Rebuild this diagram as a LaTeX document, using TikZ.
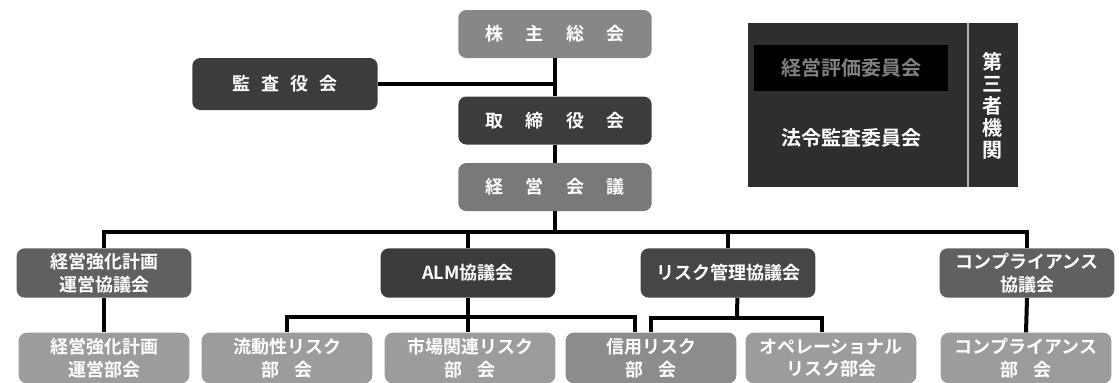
\documentclass[tikz,border=0pt]{standalone}
\usepackage{fontspec}
\setmainfont{Noto Sans CJK JP}[BoldFont={Noto Sans CJK JP Bold}]
\usetikzlibrary{positioning}
\definecolor{midgray}{HTML}{878787}
\definecolor{darkgray}{HTML}{3C3C3C}
\definecolor{dimgray}{HTML}{606060}
\definecolor{lightgray}{HTML}{9C9C9C}
\definecolor{panelgray}{HTML}{2E2E2E}
\tikzstyle{org}=[rectangle, rounded corners=6pt, text=white, align=center, inner sep=0pt]
\tikzstyle{head}=[org, minimum width=145pt, minimum height=36pt, font=\bfseries\fontsize{13.5}{15}\selectfont]
\tikzstyle{council}=[org, minimum width=131pt, minimum height=37pt, font=\bfseries\fontsize{13.5}{17}\selectfont]
\tikzstyle{section}=[org, minimum width=128pt, minimum height=38pt, font=\bfseries\fontsize{13.5}{17}\selectfont, fill=lightgray]
\tikzstyle{link}=[line width=3pt]
\newcommand\wsp{\hspace{1.25em}}
\newcommand\nsp{\hspace{.8em}}

\begin{document}
\begin{tikzpicture}[x=0.75pt, y=-0.75pt]
  \useasboundingbox (0,0) rectangle (1119,382);
  % top of the organisation
  \node[head,fill=midgray] (kabu) at (555,34) {株\wsp 主\wsp 総\wsp 会};
  \node[head,fill=darkgray] (tori) [below=28.5pt of kabu] {取\wsp 締\wsp 役\wsp 会};
  \node[head,fill=midgray!90!black] (keiei) [below=13.5pt of tori] {経\wsp 営\wsp 会\wsp 議};
  \node[head,fill=darkgray,minimum width=139pt,minimum height=39pt] (kansa) at (285,84) {監\hspace{.6em}査\hspace{.6em}役\hspace{.6em}会};
  % councils
  \node[council,fill=dimgray] (kyoka) at (104,273) {経営強化計画\\運営協議会};
  \node[council,fill=darkgray] (alm) at (468,273) {ALM協議会};
  \node[council,fill=darkgray!95!white] (risk) at (728,273) {リスク管理協議会};
  \node[council,fill=dimgray] (comp) at (1027,273) {コンプライアンス\\協議会};
  % sections
  \node[section] (kyokab) at (104,358) {経営強化計画\\運営部会};
  \node[section] (ryudo) at (287,358) {流動性リスク\\部\nsp 会};
  \node[section] (shijo) at (470,358) {市場関連リスク\\部\nsp 会};
  \node[section,fill=lightgray!90!black] (shinyo) at (651,358) {信用リスク\\部\nsp 会};
  \node[section] (opr) at (831,358) {オペレーショナル\\リスク部会};
  \node[section] (compb) at (1026,358) {コンプライアンス\\部\nsp 会};
  % outside committees
  \fill[panelgray] (748,23) rectangle (1018,187);
  \draw[gray!60!white, line width=1.5pt] (968,23) -- (968,187);
  \node[rectangle, fill=black, minimum width=145pt, minimum height=35pt, text=gray, font=\bfseries\fontsize{15}{17}\selectfont] (hyoka) at (851,68) {経営評価委員会};
  \node[text=white, font=\bfseries\fontsize{15}{17}\selectfont] (hourei) at (851,138) {法令監査委員会};
  \node[text=white, align=center, inner sep=0pt, font=\bfseries\fontsize{15}{16.5}\selectfont] (daisan) at (992,106) {第\\三\\者\\機\\関};
  % connectors
  \coordinate (bus) at (555,232);
  \coordinate (almbus) at (468,317);
  \coordinate (riskbus) at (737,318);
  \draw[link] (kabu.south) -- (tori.north);
  \draw[link] (tori.south) -- (keiei.north);
  \draw[link] (kansa.east) -- (kansa.east -| kabu.south);
  \draw[link] (keiei.south) -- (bus);
  \draw[link] (kyoka.north) |- (bus) -| (comp.north);
  \draw[link] (alm.north) -- (alm.north |- bus);
  \draw[link] (risk.north) -- (risk.north |- bus);
  \draw[link] (kyoka.south) -- (kyokab.north);
  \draw[link] (comp.south) -- (compb.north);
  \draw[link] (alm.south) -- (alm.south |- shijo.north);
  \draw[link] (ryudo.north) |- (almbus) -| ([xshift=-12pt]shinyo.north);
  \draw[link] ([xshift=7pt]risk.south) -- (riskbus);
  \draw[link] (shinyo.north) |- (riskbus) -| ([xshift=-7pt]opr.north);
\end{tikzpicture}
\end{document}
